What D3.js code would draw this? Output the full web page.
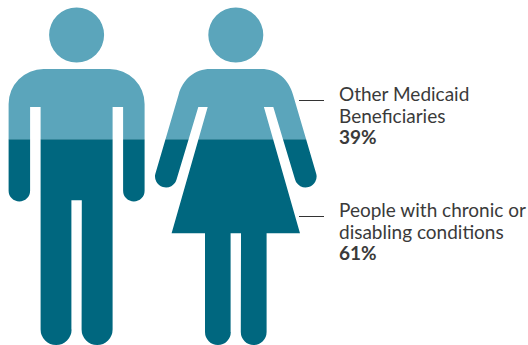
<!DOCTYPE html>
<html>
<head>
<meta charset="utf-8">
<script src="https://cdn.jsdelivr.net/npm/d3@7/dist/d3.min.js"></script>
<style>
  html, body { margin: 0; padding: 0; background: #fff; }
  svg { display: block; }
  text { font-family: Lato, sans-serif; fill: #3a3a3a; }
</style>
</head>
<body>
<svg id="chart" width="528" height="345"></svg>
<script>
// Population groups, stacked from the top of the figures downward
const groups = ["Other Medicaid Beneficiaries", "People with chronic or disabling conditions"];
const shares = [39, 61];
const groupLines = [["Other Medicaid", "Beneficiaries"], ["People with chronic or", "disabling conditions"]];
const groupColors = ["#5ba5bb", "#00677f"];

const svg = d3.select("#chart");

// Percentage of the figure's height, mapped onto the page
const y = d3.scaleLinear().domain([0, 100]).range([7.5, 345]);

const stack = d3.cumsum(shares);
const bands = shares.map((s, i) => ({ from: stack[i] - s, to: stack[i], color: groupColors[i], i }));

function manOutline(cx) {
  const p = d3.path();
  const R = cx + 68, L = cx - 68;
  const top = 69, hem = 200.3, bottom = 345, armEnd = 190.7, pit = 107;
  const armW = 21.5, gap = 10.7, legR = 15.5, rS = 35;
  const torso = 36, slit = 5.2;
  p.moveTo(L + rS, top);
  p.lineTo(R - rS, top);
  p.arcTo(R, top, R, top + rS, rS);
  p.lineTo(R, armEnd);
  p.arc(R - armW / 2, armEnd, armW / 2, 0, Math.PI, false);
  p.lineTo(R - armW, pit);
  p.lineTo(cx + torso, pit);
  p.lineTo(cx + torso, bottom - legR);
  p.arc(cx + torso - legR, bottom - legR, legR, 0, Math.PI, false);
  p.lineTo(cx + slit, hem);
  p.lineTo(cx - slit, hem);
  p.lineTo(cx - slit, bottom - legR);
  p.arc(cx - torso + legR, bottom - legR, legR, 0, Math.PI, false);
  p.lineTo(cx - torso, pit);
  p.lineTo(L + armW, pit);
  p.lineTo(L + armW, armEnd);
  p.arc(L + armW / 2, armEnd, armW / 2, 0, Math.PI, false);
  p.lineTo(L, top + rS);
  p.arcTo(L, top, L + rS, top, rS);
  p.closePath();
  return p.toString();
}

function womanOutline(cx) {
  const p = d3.path();
  const top = 69, pit = 107, hem = 233.2, bottom = 345, hemTop = 233.2;
  const handDx = 69.8, handY = 176.5, handR = 11;
  const tilt = Math.atan2(0.294, 1);                 // slope of the arms
  const shoulder = 25.5, armTop = 57.3, armTopY = 95;
  const slitOut = 37.5, slitIn = 28.1, skirt = 64.2;
  const legOut = 30.8, legIn = 5.2, legR = 12.9;
  const nx = Math.cos(tilt) * handR, ny = Math.sin(tilt) * handR;

  p.moveTo(cx - shoulder, top);
  p.lineTo(cx + shoulder, top);
  p.bezierCurveTo(cx + 41, top, cx + 53, 79, cx + armTop, armTopY);
  p.lineTo(cx + handDx + nx, handY - ny);
  p.arc(cx + handDx, handY, handR, -tilt, Math.PI - tilt, false);
  p.lineTo(cx + slitOut, pit);
  p.lineTo(cx + slitIn, pit);
  p.lineTo(cx + skirt, hem);
  p.lineTo(cx + legOut, hemTop);
  p.lineTo(cx + legOut, bottom - legR);
  p.arc(cx + legOut - legR, bottom - legR, legR, 0, Math.PI, false);
  p.lineTo(cx + legIn, hemTop);
  p.lineTo(cx - legIn, hemTop);
  p.lineTo(cx - legIn, bottom - legR);
  p.arc(cx - legOut + legR, bottom - legR, legR, 0, Math.PI, false);
  p.lineTo(cx - legOut, hemTop);
  p.lineTo(cx - skirt, hem);
  p.lineTo(cx - slitIn, pit);
  p.lineTo(cx - slitOut, pit);
  p.lineTo(cx - handDx + nx, handY + ny);
  p.arc(cx - handDx, handY, handR, tilt, Math.PI + tilt, false);
  p.lineTo(cx - armTop, armTopY);
  p.bezierCurveTo(cx - 53, 79, cx - 41, top, cx - shoulder, top);
  p.closePath();
  return p.toString();
}

function headOutline(cx) {
  const p = d3.path();
  p.arc(cx, 35, 27.5, 0, 2 * Math.PI);
  return p.toString();
}

const figures = [
  { id: "man", cx: 76.6, outline: manOutline },
  { id: "woman", cx: 235.8, outline: womanOutline }
];

// Each figure is painted once per band, clipped to that band's vertical extent
const defs = svg.append("defs");
defs.selectAll("clipPath").data(bands).join("clipPath")
  .attr("id", d => "band-" + d.i)
  .append("rect")
  .attr("x", 0)
  .attr("width", 528)
  .attr("y", d => d.i === 0 ? 0 : y(d.from))
  .attr("height", d => y(d.to) - y(d.from) + (d.i === 0 ? y(0) : 0));

const layers = svg.selectAll("g.band").data(bands).join("g")
  .attr("class", "band")
  .attr("clip-path", d => `url(#band-${d.i})`)
  .attr("fill", d => d.color);

layers.selectAll("path.body").data(figures).join("path")
  .attr("class", "body")
  .attr("d", f => f.outline(f.cx));

layers.selectAll("path.head").data(figures).join("path")
  .attr("class", "head")
  .attr("d", f => headOutline(f.cx));

// Leader lines and callouts
const labelX = 339, leaderX = [299, 324];
const labelTop = [101, 217], lineStep = 22;

const callouts = svg.selectAll("g.callout").data(groups).join("g").attr("class", "callout");

callouts.append("line")
  .attr("x1", leaderX[0]).attr("x2", leaderX[1])
  .attr("y1", (d, i) => labelTop[i] - 0.5).attr("y2", (d, i) => labelTop[i] - 0.5)
  .attr("stroke", "#333").attr("stroke-width", 1);

callouts.each(function (d, i) {
  const g = d3.select(this);
  groupLines[i].forEach((t, j) => {
    g.append("text")
      .attr("x", labelX).attr("y", labelTop[i] + j * lineStep)
      .attr("font-size", 19)
      .text(t);
  });
  g.append("text")
    .attr("x", labelX).attr("y", labelTop[i] + 2 * lineStep - 1)
    .attr("font-size", 19).attr("font-weight", 700)
    .text(shares[i] + "%");
});
</script>
</body>
</html>
